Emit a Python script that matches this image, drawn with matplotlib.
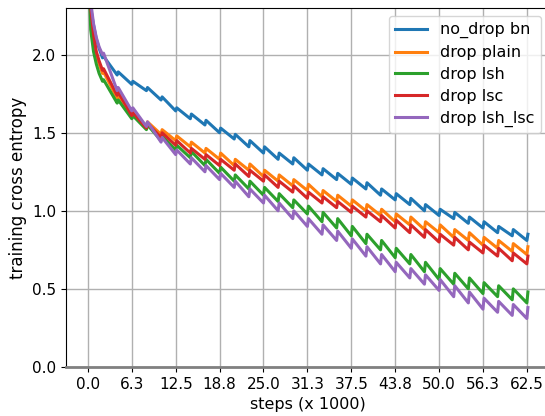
import matplotlib
matplotlib.use("Agg")
import matplotlib.pyplot as plt
import numpy as np

# training loss logged per epoch boundary (x 1000 steps), 30 epochs in 62.5k steps
n_epochs = 30
total_steps = 62.5

# first epoch: steep initial drop
head_steps = [0.0, 0.4, 0.8, 1.2, 1.6]

no_drop_bn_head = [2.60, 2.30, 2.19, 2.10, 2.04]
drop_plain_head = [2.70, 2.26, 2.10, 2.00, 1.94]
drop_lsh_head = [2.70, 2.16, 2.02, 1.94, 1.88]
drop_lsc_head = [2.70, 2.30, 2.13, 2.02, 1.96]
drop_lsh_lsc_head = [2.70, 2.34, 2.20, 2.11, 2.05]

# loss at the end of each epoch (just before the jump)
no_drop_bn_end = [1.98, 1.87, 1.81, 1.77, 1.71, 1.64, 1.59, 1.55, 1.50, 1.46,
                  1.41, 1.37, 1.33, 1.30, 1.26, 1.23, 1.20, 1.17, 1.14, 1.10,
                  1.07, 1.04, 1.00, 0.97, 0.95, 0.92, 0.89, 0.86, 0.84, 0.81]
drop_plain_end = [1.88, 1.72, 1.60, 1.54, 1.49, 1.45, 1.41, 1.37, 1.33, 1.29,
                  1.26, 1.22, 1.19, 1.16, 1.13, 1.09, 1.06, 1.03, 1.00, 0.97,
                  0.93, 0.91, 0.88, 0.86, 0.83, 0.81, 0.78, 0.76, 0.74, 0.72]
drop_lsh_end = [1.83, 1.69, 1.59, 1.52, 1.45, 1.39, 1.34, 1.29, 1.24, 1.19,
                1.14, 1.10, 1.06, 1.02, 0.98, 0.93, 0.89, 0.84, 0.79, 0.75,
                0.70, 0.66, 0.61, 0.56, 0.53, 0.50, 0.47, 0.45, 0.43, 0.41]
drop_lsc_end = [1.90, 1.74, 1.61, 1.53, 1.47, 1.42, 1.37, 1.33, 1.29, 1.26,
                1.22, 1.19, 1.15, 1.12, 1.08, 1.05, 1.02, 0.99, 0.96, 0.93,
                0.89, 0.86, 0.83, 0.80, 0.78, 0.75, 0.73, 0.71, 0.68, 0.66]
drop_lsh_lsc_end = [2.00, 1.77, 1.64, 1.54, 1.44, 1.36, 1.30, 1.25, 1.20, 1.15,
                    1.09, 1.05, 1.00, 0.95, 0.90, 0.85, 0.81, 0.76, 0.71, 0.66,
                    0.61, 0.57, 0.53, 0.49, 0.45, 0.41, 0.37, 0.35, 0.33, 0.31]

# loss at the start of the next epoch (just after the jump)
no_drop_bn_start = [1.99, 1.89, 1.83, 1.79, 1.73, 1.66, 1.62, 1.58, 1.53, 1.49,
                    1.45, 1.41, 1.37, 1.34, 1.30, 1.27, 1.24, 1.21, 1.18, 1.14,
                    1.11, 1.08, 1.04, 1.01, 0.99, 0.96, 0.93, 0.90, 0.88, 0.85]
drop_plain_start = [1.89, 1.74, 1.62, 1.57, 1.52, 1.48, 1.44, 1.40, 1.37, 1.33,
                    1.30, 1.26, 1.23, 1.20, 1.17, 1.13, 1.10, 1.07, 1.04, 1.01,
                    0.98, 0.96, 0.93, 0.91, 0.88, 0.86, 0.83, 0.81, 0.79, 0.77]
drop_lsh_start = [1.84, 1.71, 1.61, 1.55, 1.48, 1.42, 1.38, 1.33, 1.28, 1.23,
                  1.19, 1.15, 1.11, 1.07, 1.03, 0.99, 0.95, 0.90, 0.85, 0.81,
                  0.76, 0.72, 0.67, 0.63, 0.60, 0.57, 0.54, 0.52, 0.50, 0.48]
drop_lsc_start = [1.91, 1.76, 1.63, 1.56, 1.50, 1.45, 1.40, 1.36, 1.33, 1.30,
                  1.26, 1.23, 1.19, 1.16, 1.12, 1.09, 1.06, 1.03, 1.00, 0.97,
                  0.94, 0.91, 0.88, 0.85, 0.83, 0.80, 0.78, 0.76, 0.73, 0.71]
drop_lsh_lsc_start = [2.01, 1.79, 1.66, 1.57, 1.47, 1.39, 1.34, 1.29, 1.24, 1.19,
                      1.14, 1.10, 1.05, 1.00, 0.95, 0.91, 0.87, 0.82, 0.77, 0.72,
                      0.67, 0.63, 0.59, 0.56, 0.52, 0.48, 0.44, 0.42, 0.40, 0.38]

labels = ["no_drop bn", "drop plain", "drop lsh", "drop lsc", "drop lsh_lsc"]
tick_steps = [0.0, 6.25, 12.5, 18.75, 25.0, 31.25, 37.5, 43.75, 50.0, 56.25, 62.5]
tick_labels = ["0.0", "6.3", "12.5", "18.8", "25.0", "31.3", "37.5", "43.8",
               "50.0", "56.3", "62.5"]

series = [
    (no_drop_bn_head, no_drop_bn_end, no_drop_bn_start),
    (drop_plain_head, drop_plain_end, drop_plain_start),
    (drop_lsh_head, drop_lsh_end, drop_lsh_start),
    (drop_lsc_head, drop_lsc_end, drop_lsc_start),
    (drop_lsh_lsc_head, drop_lsh_lsc_end, drop_lsh_lsc_start),
]

boundaries = np.arange(1, n_epochs + 1) * total_steps / n_epochs
jump_width = 0.15  # the reset at each epoch boundary isn't perfectly instantaneous

plt.rcParams["font.size"] = 11

fig = plt.figure(figsize=(5.45, 4.16), dpi=100)
ax = fig.add_axes([0.121, 0.118, 0.886, 0.863])

for (head, end, start), label in zip(series, labels):
    xs = list(head_steps)
    ys = list(head)
    for b, e, s in zip(boundaries, end, start):
        xs += [b, b + jump_width]
        ys += [e, s]
    ax.plot(xs, ys, lw=2.2, label=label)

ax.set_xlim(-3.125, 65.625)
ax.set_ylim(0, 2.3)
ax.set_xticks(tick_steps)
ax.set_xticklabels(tick_labels)
ax.set_yticks([0.0, 0.5, 1.0, 1.5, 2.0])
ax.grid(True, color="#b0b0b0", lw=1)
ax.spines["bottom"].set_color("grey")
ax.spines["bottom"].set_linewidth(2)

ax.set_xlabel("steps (x 1000)", fontsize=11.5)
ax.set_ylabel("training cross entropy", fontsize=12)
ax.legend(loc="upper right", fontsize=11.5, labelspacing=0.42)

fig.savefig("out.png", dpi=100)
